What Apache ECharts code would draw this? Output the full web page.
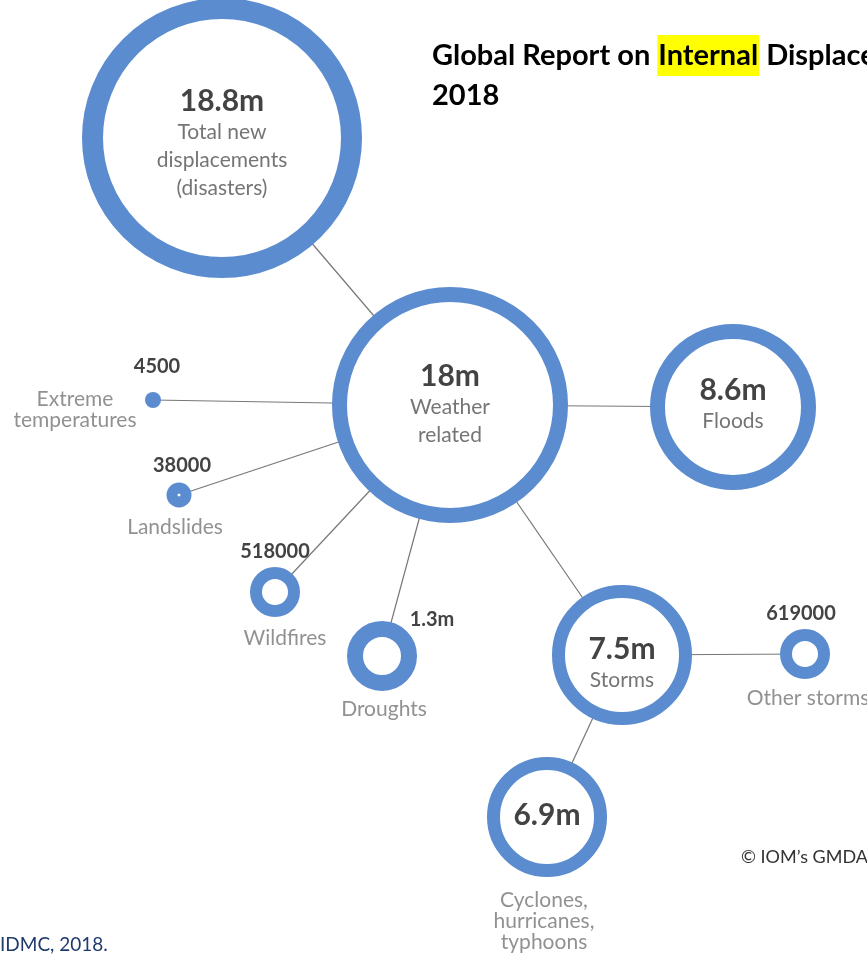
<!DOCTYPE html>
<html>
<head>
<meta charset="utf-8">
<script src="https://cdn.jsdelivr.net/npm/echarts@6/dist/echarts.min.js"></script>
<style>
html,body{margin:0;padding:0;background:#fff;overflow:hidden;}
#chart{width:867px;height:956px;}
</style>
</head>
<body>
<div id="chart"></div>
<script>
// ---- data ----
const nodeNames = ['Total new displacements (disasters)', 'Weather related', 'Floods', 'Storms', 'Other storms',
  'Cyclones, hurricanes, typhoons', 'Droughts', 'Wildfires', 'Landslides', 'Extreme temperatures'];
const nodeValues = ['18.8m', '18m', '8.6m', '7.5m', '619000', '6.9m', '1.3m', '518000', '38000', '4500'];
const nodeLabelLines = [
  ['Total new', 'displacements', '(disasters)'],
  ['Weather', 'related'],
  ['Floods'],
  ['Storms'],
  ['Other storms'],
  ['Cyclones,', 'hurricanes,', 'typhoons'],
  ['Droughts'],
  ['Wildfires'],
  ['Landslides'],
  ['Extreme', 'temperatures']
];
const links = [[0, 1], [1, 2], [1, 3], [3, 4], [3, 5], [1, 6], [1, 7], [1, 8], [1, 9]];

// ---- layout (positions / sizes / styles) ----
const layoutXY = [[222, 138], [450, 405], [733, 407], [622, 655], [805, 654], [547, 817], [382, 656], [275, 592], [179, 495], [153, 400]];
const outerR = [140, 118, 83, 70, 25, 60, 35, 25, 12.5, 8];
const ring = [21, 15, 15, 13, 12, 13, 16, 12, 11, 0];
const inside = [true, true, true, true, false, false, false, false, false, false];
const insideOffset = [[0, 5], [0, -1], [0, -3], [0, 8], null, [0, -2], null, null, null, null];
const valueOffset = [null, null, null, null, [-4, -40], null, [50, -36], [0, -40], [3, -29], [4, -33]];
const nameOffset = [null, null, null, null, [3, 44], [-3, 104], [2, 53], [10, 46], [-4, 32], [-78, 10]];

const BLUE = '#5b8ccf';
const NUM = '#434343';
const TXT = '#757575';
const FONT = 'Lato, "Open Sans", sans-serif';

const graphNodes = nodeNames.map((n, i) => {
  const R = outerR[i], w = ring[i];
  const node = {
    name: n,
    value: layoutXY[i],
    symbol: 'circle',
    symbolSize: w > 0 ? 2 * R - w : 2 * R,
    itemStyle: w > 0 ? { color: '#fff', borderColor: BLUE, borderWidth: w } : { color: BLUE, borderWidth: 0 }
  };
  if (inside[i]) {
    const lines = ['{v|' + nodeValues[i] + '}'].concat(nodeLabelLines[i].map(t => '{n|' + t + '}'));
    node.label = { show: true, position: 'inside', offset: insideOffset[i], formatter: lines.join('\n') };
  } else {
    node.label = { show: true, position: 'inside', offset: valueOffset[i], formatter: '{s|' + nodeValues[i] + '}' };
  }
  return node;
});
// Cyclones: value inside, name outside
graphNodes[5].label = { show: true, position: 'inside', offset: insideOffset[5], formatter: '{v|' + nodeValues[5] + '}' };

const graphLinks = links.map(l => ({ source: l[0], target: l[1] }));

const nameData = [];
nodeNames.forEach((n, i) => {
  if (nameOffset[i]) {
    nameData.push({
      value: layoutXY[i],
      label: { show: true, position: 'inside', offset: nameOffset[i], formatter: nodeLabelLines[i].join('\n') }
    });
  }
});

const chart = echarts.init(document.getElementById('chart'), null, { renderer: 'canvas' });
chart.setOption({
  animation: false,
  backgroundColor: '#fff',
  grid: { left: 0, right: 0, top: 0, bottom: 0 },
  xAxis: { type: 'value', min: 0, max: 867, show: false },
  yAxis: { type: 'value', min: 0, max: 956, inverse: true, show: false },
  graphic: [
    {
      type: 'text', left: 432, top: 35, z: 10,
      style: {
        text: '{b|Global Report on }{h|Internal}{b| Displacement}\n{b|2018}',
        rich: {
          b: { fontFamily: FONT, fontWeight: 'bold', fontSize: 29, fill: '#000', lineHeight: 40 },
          h: { fontFamily: FONT, fontWeight: 'bold', fontSize: 29, fill: '#000', backgroundColor: '#ffff00', lineHeight: 40, padding: [6, 1, 6, 1] }
        }
      }
    },
    {
      type: 'text', left: 741, top: 848,
      style: { text: '\u00a9 IOM\u2019s GMDAC', fontFamily: FONT, fontSize: 18, fill: '#333' }
    },
    {
      type: 'text', left: 0, top: 935,
      style: { text: 'IDMC, 2018.', fontFamily: FONT, fontSize: 19, fill: '#1f3a6b' }
    }
  ],
  series: [
    {
      type: 'graph',
      coordinateSystem: 'cartesian2d',
      layout: 'none',
      silent: true,
      data: graphNodes,
      links: graphLinks,
      lineStyle: { color: '#777', width: 1.2, opacity: 1, curveness: 0 },
      label: {
        rich: {
          v: { fontFamily: FONT, fontWeight: 'bold', fontSize: 30, color: NUM, lineHeight: 34, align: 'center' },
          n: { fontFamily: FONT, fontSize: 21, color: TXT, lineHeight: 28, align: 'center' },
          s: { fontFamily: FONT, fontWeight: 'bold', fontSize: 20, color: NUM, align: 'center' }
        }
      },
      z: 2
    },
    {
      type: 'scatter',
      silent: true,
      symbolSize: 0,
      data: nameData,
      label: { fontFamily: FONT, fontSize: 21, color: TXT, lineHeight: 21, align: 'center' },
      z: 3
    }
  ]
});
</script>
</body>
</html>
